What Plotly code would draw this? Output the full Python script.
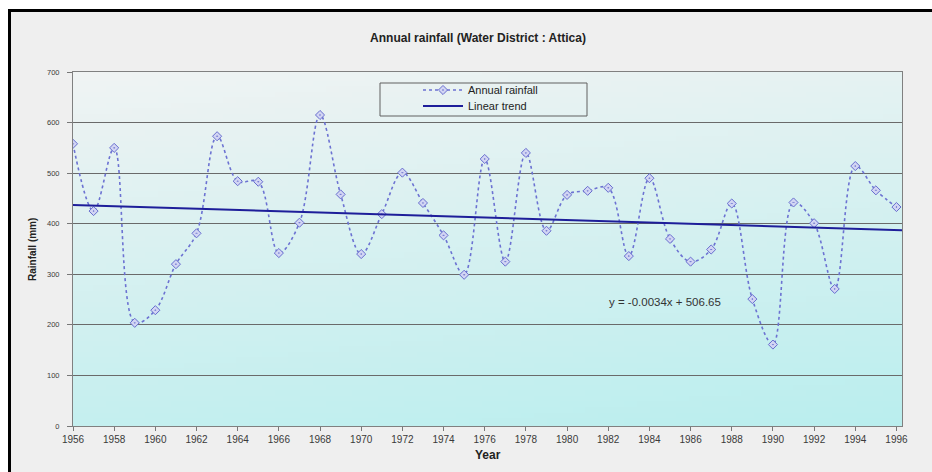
import base64
import struct
import zlib
from datetime import date

import plotly.graph_objects as go

# ---- data -------------------------------------------------------------
years = list(range(1956, 1997))
rainfall_mm = [558, 425, 550, 204, 229, 320, 381, 573, 484, 483,
               342, 402, 615, 458, 340, 419, 501, 441, 377, 299,
               528, 325, 540, 386, 457, 465, 471, 336, 490, 370,
               325, 349, 440, 251, 161, 442, 401, 271, 514, 466, 433]

# Excel-style linear trend: x is the spreadsheet date serial (days)
trend_slope = -0.0034
trend_intercept = 506.65
trend_label = "y = -0.0034x + 506.65"

x_tick_years = list(range(1956, 1997, 2))
y_tick_values = list(range(0, 701, 100))

# ---- layout geometry (pixels) ------------------------------------------
W, H = 932, 472
PL, PR, PT, PB = 73, 902, 72, 426        # plot area edges
X_END = 1996.27                            # right end of the x axis


def px(x):
    return (x - PL) / (PR - PL)


def py(y):
    return (PB - y) / (PB - PT)


def excel_serial(year_value):
    whole = int(year_value)
    base = (date(whole, 1, 1) - date(1899, 12, 30)).days
    return base + (year_value - whole) * 365.25


trend_x = [years[0], X_END]
trend_y = [trend_slope * excel_serial(v) + trend_intercept for v in trend_x]


# ---- plot-area background gradient as an inline PNG --------------------
def gradient_png(w, h):
    top = (240, 243, 243)
    bottom = (186, 238, 238)
    rows = []
    for j in range(h):
        row = bytearray([0])
        for i in range(w):
            t = 0.8 * (j / (h - 1)) + 0.2 * (i / (w - 1))
            t = min(max(t, 0.0), 1.0)
            row.extend(int(round(a + (b - a) * t)) for a, b in zip(top, bottom))
        rows.append(bytes(row))
    raw = b"".join(rows)

    def chunk(tag, data):
        c = struct.pack(">I", len(data)) + tag + data
        return c + struct.pack(">I", zlib.crc32(tag + data) & 0xFFFFFFFF)

    png = b"\x89PNG\r\n\x1a\n"
    png += chunk(b"IHDR", struct.pack(">IIBBBBB", w, h, 8, 2, 0, 0, 0))
    png += chunk(b"IDAT", zlib.compress(raw, 9))
    png += chunk(b"IEND", b"")
    return "data:image/png;base64," + base64.b64encode(png).decode()


FONT = "Arial, Liberation Sans, sans-serif"

fig = go.Figure()

fig.add_trace(go.Scatter(
    x=years, y=rainfall_mm, name="Annual rainfall",
    mode="lines+markers",
    line=dict(color="#6c72d2", width=1.6, dash="dot", shape="spline", smoothing=1.0),
    marker=dict(symbol="diamond-dot", size=7, color="#d2d5f3",
                line=dict(color="#676dcf", width=1)),
    legend="legend",
))

fig.add_trace(go.Scatter(
    x=trend_x, y=trend_y, name="Linear trend",
    mode="lines",
    line=dict(color="#1e1e9a", width=2),
    legend="legend2",
))

legend_common = dict(
    bgcolor="rgba(0,0,0,0)", borderwidth=0,
    font=dict(family=FONT, size=11, color="#222"),
    itemwidth=40, xanchor="left", yanchor="middle",
)

fig.update_layout(
    width=W, height=H,
    margin=dict(l=PL, r=W - PR, t=PT, b=H - PB, pad=0),
    paper_bgcolor="#efefef",
    plot_bgcolor="rgba(0,0,0,0)",
    title=dict(text="<b>Annual rainfall (Water District : Attica)</b>",
               x=478 / W, xref="container", xanchor="center",
               y=1 - 38 / H, yref="container", yanchor="middle",
               font=dict(family=FONT, size=12, color="#222")),
    legend=dict(x=px(418), y=py(90), **legend_common),
    legend2=dict(x=px(418), y=py(106), **legend_common),
    xaxis=dict(range=[years[0], X_END], tickvals=x_tick_years,
               ticktext=[str(v) for v in x_tick_years],
               ticks="outside", ticklen=4, tickcolor="#777", tickwidth=1,
               showgrid=False, zeroline=False,
               showline=True, linecolor="#808080", linewidth=1, mirror=True,
               tickfont=dict(family=FONT, size=10, color="#3a3a3a")),
    yaxis=dict(range=[0, 700], tickvals=y_tick_values,
               ticks="outside", ticklen=5, tickcolor="#777", tickwidth=1,
               ticklabelstandoff=6,
               showgrid=True, gridcolor="#6a6a6a", gridwidth=1.3,
               zeroline=False,
               showline=True, linecolor="#808080", linewidth=1, mirror=True,
               tickfont=dict(family=FONT, size=7.5, color="#3a3a3a")),
    images=[dict(source=gradient_png(64, 64), xref="paper", yref="paper",
                 x=0, y=1, sizex=1, sizey=1, xanchor="left", yanchor="top",
                 sizing="stretch", layer="below")],
    showlegend=True,
)

# legend frame, equation label and axis titles
fig.add_shape(type="rect", xref="paper", yref="paper",
              x0=px(380), x1=px(587), y0=py(116), y1=py(83),
              line=dict(color="#606060", width=1), fillcolor="rgba(0,0,0,0)")

fig.add_annotation(text=trend_label, xref="paper", yref="paper",
                   x=px(607), y=py(301.5), xanchor="left", yanchor="middle",
                   showarrow=False, font=dict(family=FONT, size=11.5, color="#333"))

fig.add_annotation(text="<b>Rainfall (mm)</b>", xref="paper", yref="paper",
                   x=px(33), y=py(250), textangle=-90, showarrow=False,
                   xanchor="center", yanchor="middle",
                   font=dict(family=FONT, size=10, color="#222"))

fig.add_annotation(text="<b>Year</b>", xref="paper", yref="paper",
                   x=px(487.5), y=py(455), showarrow=False,
                   xanchor="center", yanchor="middle",
                   font=dict(family=FONT, size=12, color="#222"))

# white page edge and black frame on the top and left of the chart
for x0, x1, y0, y1, col in [
    (-8, 8, -8, H + 8, "white"),
    (-8, W + 8, -8, 9, "white"),
    (8, 11, 9, H + 8, "black"),
    (8, W + 8, 9, 12, "black"),
]:
    fig.add_shape(type="rect", xref="paper", yref="paper",
                  x0=px(x0), x1=px(x1), y0=py(y1), y1=py(y0),
                  line=dict(width=0), fillcolor=col, layer="above")

fig.write_html("out.html")
